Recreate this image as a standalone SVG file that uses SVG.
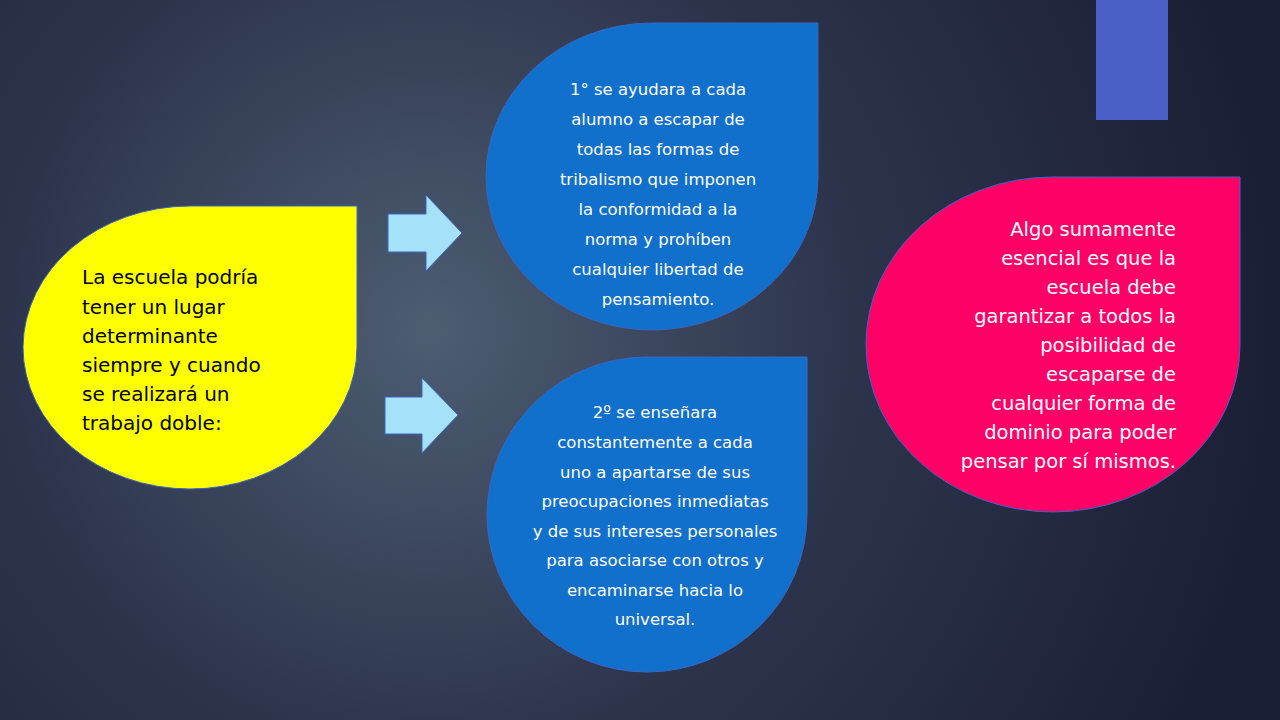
<svg xmlns="http://www.w3.org/2000/svg" width="1280" height="720" viewBox="0 0 1280 720">
<defs>
<radialGradient id="bg" cx="430" cy="330" r="850" gradientUnits="userSpaceOnUse">
<stop offset="0" stop-color="#4d5d72"/><stop offset="0.5" stop-color="#2c344c"/><stop offset="1" stop-color="#1b1f36"/>
</radialGradient>
<style>
.t{font-family:"DejaVu Sans","Liberation Sans",sans-serif;}
.b{font-size:16.5px;fill:#fff;text-anchor:middle}
.y{font-size:20px;fill:#000}
.p{font-size:19.5px;fill:#fff;text-anchor:end}
.arr{fill:#a6e1fa;stroke:#3b66c4;stroke-width:1}
</style>
</defs>
<rect width="1280" height="720" fill="url(#bg)"/>
<rect x="1096" y="0" width="72" height="120" fill="#4a60c6"/>
<g id="connectors">
<path class="arr" d="M388 214 H426 V195 L462 233 L426 271 V252 H388 Z"/>
<path class="arr" d="M385 397 H422 V378 L458 415 L422 453 V434 H385 Z"/>
</g>
<g id="n1">
<path d="M357 206 V347 A167 142 0 0 1 190 489 A167 142 0 0 1 23 347 A167 142 0 0 1 190 206 Z" fill="#ffff00" stroke="#3b66c4" stroke-width="1"/>
<text class="t y"><tspan x="82" y="284">La escuela podría</tspan><tspan x="82" y="314">tener un lugar</tspan><tspan x="82" y="343">determinante</tspan><tspan x="82" y="372">siempre y cuando</tspan><tspan x="82" y="401">se realizará un</tspan><tspan x="82" y="430">trabajo doble:</tspan></text>
</g>
<g id="n2">
<path d="M818 23 V177 A166 153 0 0 1 652 330 A166 153 0 0 1 486 177 A166 153 0 0 1 652 23 Z" fill="#1170cc" stroke="#3b66c4" stroke-width="1"/>
<text class="t b"><tspan x="658" y="95">1° se ayudara a cada</tspan><tspan x="658" y="125">alumno a escapar de</tspan><tspan x="658" y="155">todas las formas de</tspan><tspan x="658" y="185">tribalismo que imponen</tspan><tspan x="658" y="215">la conformidad a la</tspan><tspan x="658" y="245">norma y prohíben</tspan><tspan x="658" y="275">cualquier libertad de</tspan><tspan x="658" y="305">pensamiento.</tspan></text>
</g>
<g id="n3">
<path d="M807 357 V514 A160 158 0 0 1 647 672 A160 158 0 0 1 487 514 A160 158 0 0 1 647 357 Z" fill="#1170cc" stroke="#3b66c4" stroke-width="1"/>
<text class="t b"><tspan x="655" y="418">2º se enseñara</tspan><tspan x="655" y="448">constantemente a cada</tspan><tspan x="655" y="478">uno a apartarse de sus</tspan><tspan x="655" y="507">preocupaciones inmediatas</tspan><tspan x="655" y="537">y de sus intereses personales</tspan><tspan x="655" y="566">para asociarse con otros y</tspan><tspan x="655" y="596">encaminarse hacia lo</tspan><tspan x="655" y="625">universal.</tspan></text>
</g>
<g id="n4">
<path d="M1240 177 V345 A187 167 0 0 1 1053 512 A187 167 0 0 1 866 345 A187 167 0 0 1 1053 177 Z" fill="#ff0066" stroke="#3b66c4" stroke-width="1"/>
<text class="t p"><tspan x="1176" y="236">Algo sumamente</tspan><tspan x="1176" y="265">esencial es que la</tspan><tspan x="1176" y="294">escuela debe</tspan><tspan x="1176" y="323">garantizar a todos la</tspan><tspan x="1176" y="352">posibilidad de</tspan><tspan x="1176" y="381">escaparse de</tspan><tspan x="1176" y="410">cualquier forma de</tspan><tspan x="1176" y="439">dominio para poder</tspan><tspan x="1176" y="468">pensar por sí mismos.</tspan></text>
</g>
</svg>
